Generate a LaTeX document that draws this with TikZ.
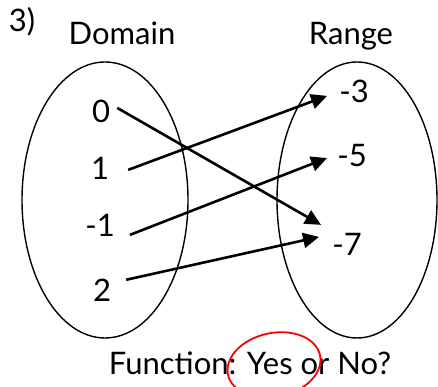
\documentclass[tikz,border=0pt]{standalone}
\usepackage{fontspec}
\setmainfont{Lato}
\usetikzlibrary{arrows.meta,shapes.geometric}
\begin{document}
\begin{tikzpicture}[x=1pt,y=1pt,
  lbl/.style={inner sep=0pt,anchor=base,font=\fontsize{31}{33}\selectfont},
  oval/.style={draw,line width=1.4pt},
  arr/.style={line width=2.6pt,-{Triangle[length=16pt,width=15pt]}}]
\useasboundingbox (0,0) rectangle (438,387);
\node[lbl] (num) at (22,355) {3)};
\node[lbl] (dom) at (122,342) {Domain};
\node[lbl] (ran) at (351,342) {Range};
\node[oval,ellipse,minimum width=166pt,minimum height=276pt,inner sep=0pt] (de) at (105,187) {};
\node[oval,ellipse,minimum width=160pt,minimum height=276pt,inner sep=0pt] (re) at (357,187) {};
\node[lbl] (d0) at (101,264) {0};
\node[lbl] (d1) at (100,207) {1};
\node[lbl] (dm1) at (100,150) {-1};
\node[lbl] (d2) at (102,85) {2};
\node[lbl] (r3) at (354,284) {-3};
\node[lbl] (r5) at (352,220) {-5};
\node[lbl] (r7) at (347,131) {-7};
\draw[arr] ([shift={(7,4)}]d0.east) -- ([shift={(-11,20)}]r7.west);
\draw[arr] ([shift={(19,-1)}]d1.east) -- ([shift={(-12,-4)}]r3.west);
\draw[arr] ([shift={(15,-9)}]dm1.east) -- ([shift={(-10,-2)}]r5.west);
\draw[arr] ([shift={(15,11)}]d2.east) -- ([shift={(-13,8)}]r7.west);
\node[lbl] (fn) at (250,12) {Function: Yes or No?};
\draw[red,line width=1.8pt,rotate around={12:(274,22)}] (274,22) ellipse (47pt and 32pt);
\end{tikzpicture}
\end{document}
